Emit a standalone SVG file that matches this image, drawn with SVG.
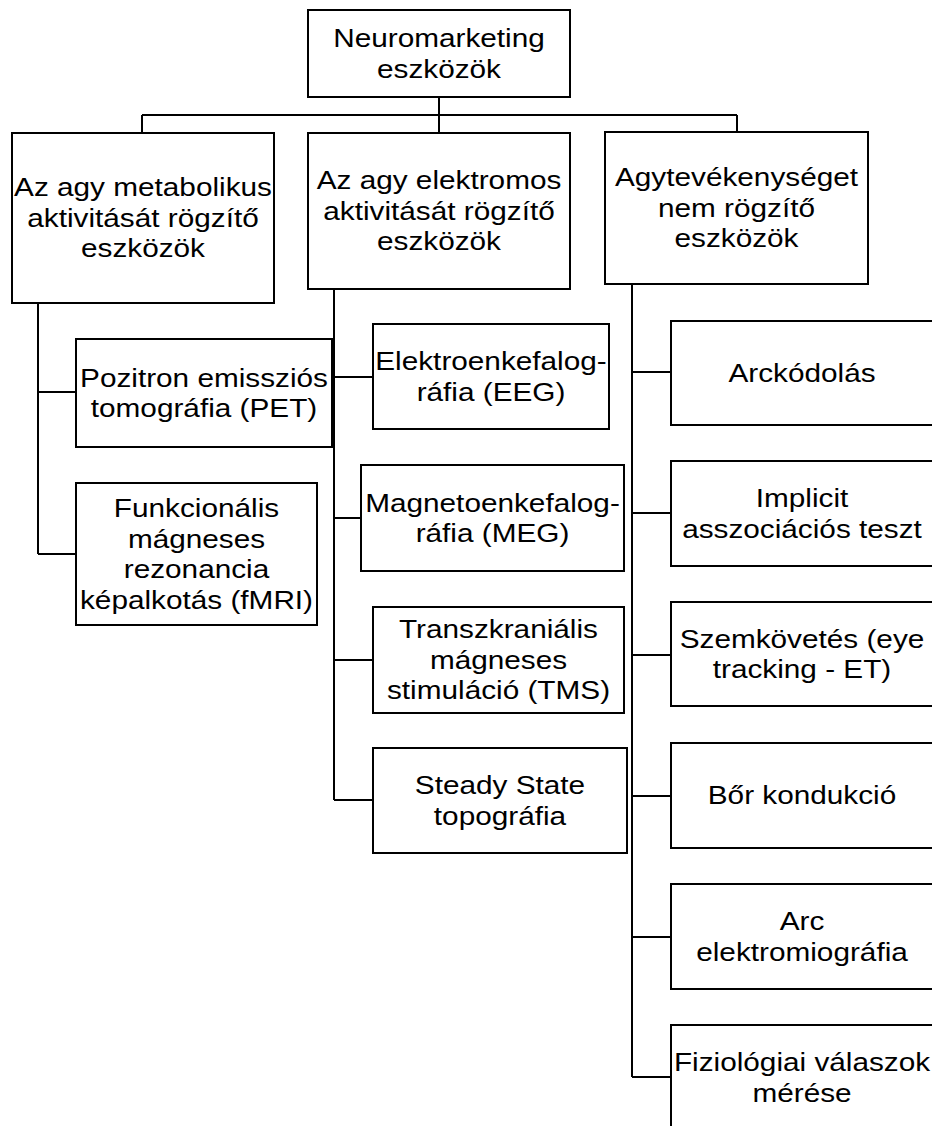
<svg xmlns="http://www.w3.org/2000/svg" width="932" height="1126" viewBox="0 0 932 1126">
<style>
.box{fill:#fff;stroke:#000;stroke-width:2}
.c{fill:none;stroke:#000;stroke-width:2}
.t{font-family:"Liberation Sans",Arial,sans-serif;font-size:25px;fill:#000;text-anchor:middle}
</style>
<rect width="932" height="1126" fill="#fff"/>
<g id="connectors">
<path class="c" d="M439 97V115M142 115H737M142 115V133M439 115V133M737 115V132"/>
<path class="c" d="M38 303V554M38 392H76M38 554H76"/>
<path class="c" d="M334 289V800M334 377H373M334 518H361M334 660H373M334 800H373"/>
<path class="c" d="M632 284V1077M632 372H671M632 513H671M632 655H671M632 796H671M632 937H671M632 1077H671"/>
</g>
<g id="root"><rect class="box" x="308" y="10" width="262" height="87"/>
<text class="t" transform="translate(439 0) scale(1.19 1)"><tspan x="0" y="47.25">Neuromarketing</tspan><tspan x="0" y="77.75">eszközök</tspan></text></g>
<g id="metabolic"><rect class="box" x="12" y="133" width="262" height="170"/>
<text class="t" transform="translate(143 0) scale(1.19 1)"><tspan x="0" y="196.5">Az agy metabolikus</tspan><tspan x="0" y="227">aktivitását rögzítő</tspan><tspan x="0" y="257.5">eszközök</tspan></text></g>
<g id="electric"><rect class="box" x="308" y="133" width="262" height="156"/>
<text class="t" transform="translate(439 0) scale(1.19 1)"><tspan x="0" y="189.5">Az agy elektromos</tspan><tspan x="0" y="220">aktivitását rögzítő</tspan><tspan x="0" y="250.5">eszközök</tspan></text></g>
<g id="nonbrain"><rect class="box" x="605" y="132" width="263" height="152"/>
<text class="t" transform="translate(736.5 0) scale(1.19 1)"><tspan x="0" y="186.5">Agytevékenységet</tspan><tspan x="0" y="217">nem rögzítő</tspan><tspan x="0" y="247.5">eszközök</tspan></text></g>
<g id="pet"><rect class="box" x="76" y="339" width="256" height="108"/>
<text class="t" transform="translate(204 0) scale(1.19 1)"><tspan x="0" y="386.75">Pozitron emissziós</tspan><tspan x="0" y="417.25">tomográfia (PET)</tspan></text></g>
<g id="fmri"><rect class="box" x="76" y="483" width="241" height="142"/>
<text class="t" transform="translate(196.5 0) scale(1.19 1)"><tspan x="0" y="517.25">Funkcionális</tspan><tspan x="0" y="547.75">mágneses</tspan><tspan x="0" y="578.25">rezonancia</tspan><tspan x="0" y="608.75">képalkotás (fMRI)</tspan></text></g>
<g id="eeg"><rect class="box" x="373" y="324" width="236" height="105"/>
<text class="t" transform="translate(491 0) scale(1.19 1)"><tspan x="0" y="370.25">Elektroenkefalog-</tspan><tspan x="0" y="400.75">ráfia (EEG)</tspan></text></g>
<g id="meg"><rect class="box" x="361" y="465" width="263" height="106"/>
<text class="t" transform="translate(492.5 0) scale(1.19 1)"><tspan x="0" y="511.75">Magnetoenkefalog-</tspan><tspan x="0" y="542.25">ráfia (MEG)</tspan></text></g>
<g id="tms"><rect class="box" x="373" y="607" width="251" height="106"/>
<text class="t" transform="translate(498.5 0) scale(1.19 1)"><tspan x="0" y="638.5">Transzkraniális</tspan><tspan x="0" y="669">mágneses</tspan><tspan x="0" y="699.5">stimuláció (TMS)</tspan></text></g>
<g id="steady"><rect class="box" x="373" y="748" width="254" height="105"/>
<text class="t" transform="translate(500 0) scale(1.19 1)"><tspan x="0" y="794.25">Steady State</tspan><tspan x="0" y="824.75">topográfia</tspan></text></g>
<g id="arckod"><rect class="box" x="671" y="321" width="262" height="104"/>
<text class="t" transform="translate(802 0) scale(1.19 1)"><tspan x="0" y="382">Arckódolás</tspan></text></g>
<g id="iat"><rect class="box" x="671" y="461" width="262" height="105"/>
<text class="t" transform="translate(802 0) scale(1.19 1)"><tspan x="0" y="507.25">Implicit</tspan><tspan x="0" y="537.75">asszociációs teszt</tspan></text></g>
<g id="et"><rect class="box" x="671" y="602" width="262" height="104"/>
<text class="t" transform="translate(802 0) scale(1.19 1)"><tspan x="0" y="647.75">Szemkövetés (eye</tspan><tspan x="0" y="678.25">tracking - ET)</tspan></text></g>
<g id="gsr"><rect class="box" x="671" y="743" width="262" height="105"/>
<text class="t" transform="translate(802 0) scale(1.19 1)"><tspan x="0" y="804.5">Bőr kondukció</tspan></text></g>
<g id="emg"><rect class="box" x="671" y="884" width="262" height="105"/>
<text class="t" transform="translate(802 0) scale(1.19 1)"><tspan x="0" y="930.25">Arc</tspan><tspan x="0" y="960.75">elektromiográfia</tspan></text></g>
<g id="phys"><rect class="box" x="671" y="1025" width="262" height="105"/>
<text class="t" transform="translate(802 0) scale(1.19 1)"><tspan x="0" y="1071.25">Fiziológiai válaszok</tspan><tspan x="0" y="1101.75">mérése</tspan></text></g>
</svg>
